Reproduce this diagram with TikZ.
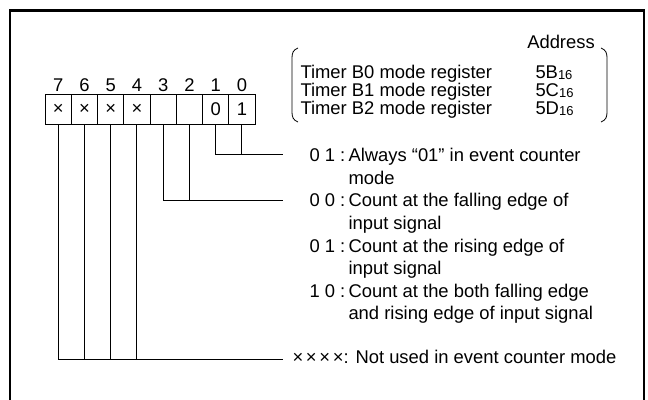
\documentclass[tikz,border=0pt]{standalone}
\usepackage{fontspec}
\setmainfont{Liberation Sans}
\usetikzlibrary{calc}

\newcommand{\hexsub}[1]{\raisebox{-1pt}{\fontsize{13}{13}\selectfont #1}}

\begin{document}
\begin{tikzpicture}[x=1pt, y=-1pt, line width=1pt,
  font=\fontsize{18.4}{22.6}\selectfont]
  \useasboundingbox (0,0) rectangle (648,399);
  % 外框
  \draw[line width=2.4pt] (10,400) -- (10,10.5) -- (644,10.5) -- (644,400);
  % 位框
  \pgfmathsetmacro{\cw}{26.25}
  \foreach \b/\v in {7/×,6/×,5/×,4/×,3/{},2/{},1/0,0/1} {
    \node[draw, minimum width=\cw pt, minimum height=30pt, inner sep=0pt]
      (b\b) at ({45+\cw*(7-\b)+\cw/2}, 109.3) {\v};
    \node[anchor=base, inner sep=0pt] (n\b) at ($(b\b.north)+(0,-2.7)$) {\b};
  }
  % 寄存器与地址
  \draw[line width=0.8pt] (298,48) .. controls (293,50) and (292,53) .. (292,58)
    -- (292,112) .. controls (292,117) and (293,120) .. (298,122);
  \draw[line width=0.8pt] (601,48) .. controls (606,50) and (607,53) .. (607,58)
    -- (607,112) .. controls (607,117) and (606,120) .. (601,122);
  \node[anchor=base, inner sep=0pt] (addr) at (561,48.6) {Address};
  \foreach \i/\a in {0/B,1/C,2/D} {
    \node[anchor=base west, inner sep=0pt] (tb\i) at (300,{78.3+18.3*\i})
      {Timer B\i\ mode register};
    \node[anchor=base west, inner sep=0pt] (ad\i) at (535,{78.3+18.3*\i})
      {5\a\hexsub{16}};
  }
  % 说明
  \foreach \i/\k/\ta/\tb in {0/0 1/Always “01” in event counter/mode,
      1/0 0/Count at the falling edge of/input signal,
      2/0 1/Count at the rising edge of/input signal,
      3/1 0/Count at the both falling edge/and rising edge of input signal} {
    \node[anchor=base west, inner sep=0pt] (k\i) at (309,{161.6+45.2*\i}) {\k\ :};
    \node[anchor=base west, inner sep=0pt] (t\i) at (348,{161.6+45.2*\i}) {\ta};
    \node[anchor=base west, inner sep=0pt] (u\i) at (348,{184.2+45.2*\i}) {\tb};
  }
  \node[anchor=base west, inner sep=0pt] (kx) at (292,363.5)
    {×\kern2.7pt×\kern2.7pt×\kern2.7pt×: Not used in event counter mode};
  % 连线
  \coordinate (e1) at (283,154);
  \coordinate (e2) at (283,200);
  \coordinate (e3) at (283,359);
  \draw (b1.south) |- (e1);
  \draw (b0.south) -- (b0.south |- e1);
  \draw (b3.south) |- (e2);
  \draw (b2.south) -- (b2.south |- e2);
  \draw (b7.south) |- (e3);
  \foreach \b in {6,5,4}
    \draw (b\b.south) -- (b\b.south |- e3);
\end{tikzpicture}
\end{document}
